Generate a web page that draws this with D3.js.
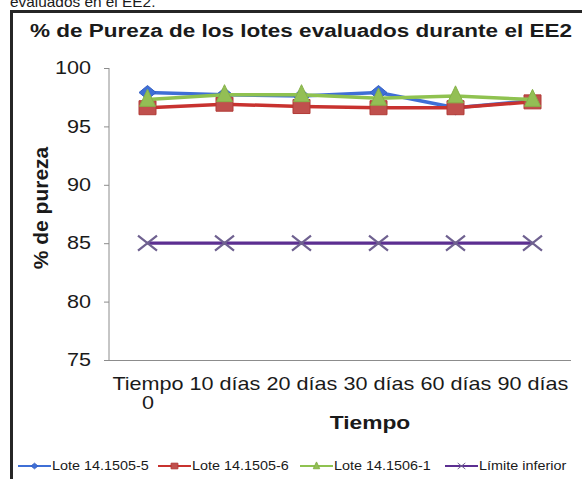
<!DOCTYPE html>
<html>
<head>
<meta charset="utf-8">
<script src="https://cdn.jsdelivr.net/npm/d3@7"></script>
<style>
  body { margin: 0; background: #fff; }
  text { font-family: "Liberation Sans", Arial, sans-serif; fill: #1a1a1a; }
</style>
</head>
<body>
<div id="chart"></div>
<script>
// data
const categories = ["Tiempo 0", "10 días", "20 días", "30 días", "60 días", "90 días"];
const lote5 = [97.9, 97.7, 97.6, 97.9, 96.6, 97.2];
const lote6 = [96.6, 96.9, 96.7, 96.6, 96.6, 97.1];
const lote1 = [97.3, 97.7, 97.7, 97.4, 97.6, 97.3];
const limite = [85, 85, 85, 85, 85, 85];
const seriesNames = ["Lote 14.1505-5", "Lote 14.1505-6", "Lote 14.1506-1", "Límite inferior"];
const yTicks = [75, 80, 85, 90, 95, 100];

const W = 582, H = 479;
const SX = 1.2; // the source picture is stretched sideways

const svg = d3.select("#chart").append("svg")
  .attr("width", W)
  .attr("height", H);

svg.append("rect").attr("width", W).attr("height", H).attr("fill", "#fff");

// caption line cut off at the top (as in the source)
svg.append("text")
  .attr("transform", "translate(10,7) scale(1.1,1)")
  .style("font-size", "14px")
  .text("evaluados en el EE2.");

// frame
svg.append("rect")
  .attr("x", 11.5).attr("y", 11.5)
  .attr("width", 620).attr("height", 520)
  .attr("fill", "none")
  .attr("stroke", "#262626")
  .attr("stroke-width", 3);

// title
svg.append("text")
  .attr("x", 30).attr("y", 37)
  .attr("textLength", 542)
  .attr("lengthAdjust", "spacingAndGlyphs")
  .style("font-size", "18px")
  .style("font-weight", "bold")
  .text("% de Pureza de los lotes evaluados durante el EE2");

const x = d3.scalePoint()
  .domain(categories)
  .range([109, 571])
  .padding(0.5);

const y = d3.scaleLinear()
  .domain([75, 100])
  .range([360, 68]);

// Y axis
const yAxis = svg.append("g")
  .attr("transform", "translate(109,0)")
  .call(d3.axisLeft(y).tickValues(yTicks).tickSize(5).tickPadding(13));
yAxis.select(".domain").attr("stroke", "#8c8c8c").attr("d", "M0," + y(100) + "V" + y(75));
yAxis.selectAll(".tick line").attr("stroke", "#8c8c8c");
yAxis.selectAll(".tick text")
  .attr("x", -18 / SX)
  .attr("transform", "scale(" + SX + ",1)")
  .style("font-size", "18px")
  .style("font-family", "'Liberation Sans', Arial, sans-serif")
  .attr("fill", "#1a1a1a");

// X axis
const xAxis = svg.append("g")
  .attr("transform", "translate(0,360)")
  .call(d3.axisBottom(x).tickSize(0).tickPadding(0));
xAxis.select(".domain").attr("stroke", "#8c8c8c").attr("d", "M109,0.5H571");
xAxis.selectAll(".tick text")
  .attr("y", 30)
  .attr("dy", 0)
  .attr("transform", "scale(" + SX + ",1)")
  .style("font-size", "18px")
  .style("font-family", "'Liberation Sans', Arial, sans-serif")
  .attr("fill", "#1a1a1a")
  .each(function (d) {
    // wrap labels wider than the band
    const t = d3.select(this);
    if (this.getComputedTextLength() * SX > x.step() - 2) {
      const words = d.split(" ");
      t.text(null);
      t.append("tspan").attr("x", 0).attr("y", 30).text(words.slice(0, -1).join(" "));
      t.append("tspan").attr("x", 0).attr("y", 49).text(words[words.length - 1]);
    }
  });

// axis titles
svg.append("text")
  .attr("transform", "translate(370,429) scale(" + SX + ",1)")
  .attr("text-anchor", "middle")
  .style("font-size", "19px")
  .style("font-weight", "bold")
  .text("Tiempo");

svg.append("text")
  .attr("transform", "translate(48,208) rotate(-90)")
  .attr("text-anchor", "middle")
  .style("font-size", "21px")
  .style("font-weight", "bold")
  .text("% de pureza");

// marker shapes (w, h sized for the stretched look)
function diamond(w, h) { return "M0," + (-h / 2) + "L" + (w / 2) + ",0L0," + (h / 2) + "L" + (-w / 2) + ",0Z"; }
function square(w, h) { return "M" + (-w / 2) + "," + (-h / 2) + "h" + w + "v" + h + "h" + (-w) + "Z"; }
function triangle(w, h) { return "M0," + (-h * 0.6) + "L" + (w / 2) + "," + (h * 0.4) + "L" + (-w / 2) + "," + (h * 0.4) + "Z"; }
function cross(w, h) { return "M" + (-w / 2) + "," + (-h / 2) + "L" + (w / 2) + "," + (h / 2) + "M" + (-w / 2) + "," + (h / 2) + "L" + (w / 2) + "," + (-h / 2); }

const series = [
  { name: seriesNames[0], values: lote5, line: "#3f6fd6", fill: "#3f6fd6", stroke: "#3560c4", shape: diamond, w: 17, h: 14, lw: 3.5 },
  { name: seriesNames[1], values: lote6, line: "#c8322f", fill: "#c0504d", stroke: "#b23b37", shape: square, w: 17, h: 14, lw: 3.5 },
  { name: seriesNames[2], values: lote1, line: "#8fc250", fill: "#93bf55", stroke: "#86b24a", shape: triangle, w: 16, h: 17, lw: 3.5 },
  { name: seriesNames[3], values: limite, line: "#5c2f91", fill: "none", stroke: "#6f6190", shape: cross, w: 19, h: 15, lw: 3.2 }
];

const line = d3.line()
  .x((d, i) => x(categories[i]))
  .y(d => y(d));

series.forEach(s => {
  const g = svg.append("g");
  g.append("path")
    .datum(s.values)
    .attr("fill", "none")
    .attr("stroke", s.line)
    .attr("stroke-width", s.lw)
    .attr("stroke-linejoin", "round")
    .attr("d", line);
  g.selectAll("path.m")
    .data(s.values)
    .enter()
    .append("path")
    .attr("class", "m")
    .attr("transform", (d, i) => "translate(" + x(categories[i]) + "," + y(d) + ")")
    .attr("d", s.shape(s.w, s.h))
    .attr("fill", s.fill)
    .attr("stroke", s.stroke)
    .attr("stroke-width", s.shape === cross ? 2.2 : 1);
});

// legend
const legendX = [18, 158, 300, 445];
const legend = svg.append("g");
series.forEach((s, i) => {
  const g = legend.append("g").attr("transform", "translate(" + legendX[i] + ",466)");
  g.append("line")
    .attr("x1", 0).attr("x2", 33)
    .attr("stroke", s.line)
    .attr("stroke-width", 2);
  g.append("path")
    .attr("transform", "translate(16.5,0)")
    .attr("d", s.shape(s.w * 0.4, s.h * 0.4))
    .attr("fill", s.fill)
    .attr("stroke", s.stroke)
    .attr("stroke-width", 1);
  g.append("text")
    .attr("transform", "translate(34,4) scale(" + SX + ",1)")
    .style("font-size", "12px")
    .text(s.name);
});
</script>
</body>
</html>
